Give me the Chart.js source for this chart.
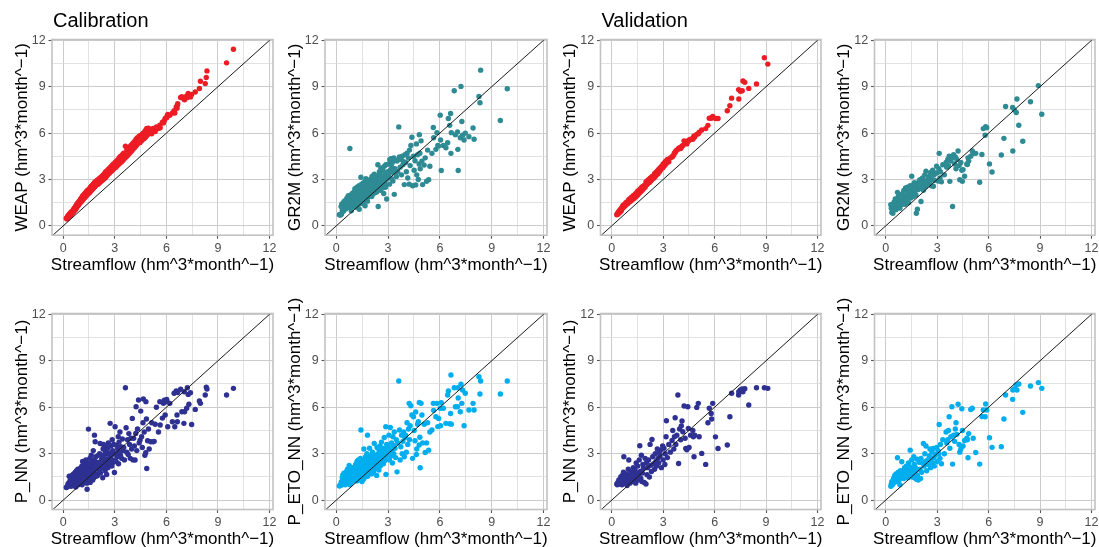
<!DOCTYPE html>
<html><head><meta charset="utf-8">
<script src="https://cdn.jsdelivr.net/npm/chart.js@4.4.0/dist/chart.umd.min.js"></script>
<style>
html,body{margin:0;padding:0;background:#fff;}
#wrap{position:relative;width:1099px;height:547px;overflow:hidden;background:#fff;}
#wrap canvas{position:absolute;left:0;top:0;}
</style></head><body><div id="wrap"></div>
<script>
// ---------- axis ticks ----------
const xLimits = [-0.65, 12.2];
const yLimits = [-0.6, 12.05];
const majorTicks = [0, 3, 6, 9, 12];
const minorTicks = [1.5, 4.5, 7.5, 10.5];

// ---------- calibration (observed streamflow and simulated) ----------
const obsCal = [0.18,0.22,0.25,0.28,0.3,0.32,0.35,0.38,0.4,0.42,0.44,0.45,0.47,0.5,
0.52,0.55,0.57,0.6,0.62,0.63,0.65,0.67,0.7,0.72,0.73,0.75,0.77,0.78,0.79,0.8,0.82,0.84,0.85,0.87,0.88,0.9,0.92,0.93,0.95,0.96,0.98,0.99,
1.01,1.03,1.05,1.07,1.08,1.1,1.12,1.13,1.15,1.17,1.18,1.2,1.22,1.23,1.25,1.27,1.28,1.3,1.32,1.33,1.35,1.37,1.38,1.39,1.4,1.42,1.43,1.45,1.47,1.49,
1.5,1.52,1.54,1.55,1.57,1.58,1.6,1.62,1.63,1.65,1.67,1.68,1.7,1.72,1.73,1.75,1.77,1.78,1.8,1.81,1.82,1.84,1.86,1.88,1.9,1.93,1.95,1.98,
2.0,2.02,2.05,2.07,2.1,2.12,2.15,2.17,2.2,2.22,2.25,2.27,2.3,2.32,2.34,2.36,2.38,2.41,2.43,2.44,2.46,2.47,2.48,2.5,
2.52,2.53,2.55,2.58,2.6,2.62,2.65,2.68,2.7,2.73,2.75,2.78,2.8,2.83,2.85,2.87,2.88,2.92,2.94,2.98,
3.02,3.05,3.08,3.1,3.13,3.17,3.2,3.22,3.25,3.28,3.3,3.33,3.36,3.4,3.44,3.48,
3.52,3.56,3.62,3.66,3.7,3.74,3.78,3.82,3.86,3.9,3.94,3.98,
4.02,4.06,4.1,4.14,4.18,4.22,4.24,4.28,4.32,4.38,4.42,4.47,
4.51,4.56,4.6,4.64,4.66,4.71,4.75,4.8,4.81,4.84,4.86,4.91,4.96,5.0,
5.09,5.15,5.23,5.29,5.35,5.42,5.54,5.62,5.64,5.77,5.83,5.88,5.93,
6.02,6.04,6.08,6.2,6.35,6.45,6.49,6.57,6.62,6.64,6.66,6.83,6.9,
7.02,7.04,7.06,7.18,7.22,7.27,7.31,7.4,7.47,7.68,7.92,7.98,
8.26,8.32,8.36,9.5,9.9];
const weapCal = [0.5,0.45,0.62,0.55,0.68,0.6,0.75,0.66,0.8,0.7,0.85,0.72,0.9,0.8,
0.95,0.85,1.0,0.92,1.1,0.96,1.15,1.02,1.22,1.08,1.28,1.12,1.3,1.2,1.38,1.22,1.42,1.28,1.48,1.32,1.5,1.38,1.58,1.42,1.6,1.48,1.66,1.52,
1.72,1.55,1.78,1.6,1.82,1.65,1.9,1.7,1.95,1.74,1.98,1.78,2.0,1.82,2.08,1.86,2.1,1.9,2.16,1.95,2.2,1.98,2.24,2.02,2.28,2.05,2.3,2.1,2.34,2.12,
2.35,2.15,2.4,2.2,2.45,2.24,2.5,2.28,2.55,2.32,2.58,2.36,2.62,2.4,2.68,2.45,2.7,2.48,2.76,2.52,2.8,2.55,2.84,2.6,2.88,2.64,2.92,2.7,
2.95,2.7,3.0,2.76,3.05,2.8,3.1,2.86,3.15,2.9,3.2,2.95,3.25,3.0,3.3,3.05,3.35,3.08,3.4,3.12,3.45,3.16,3.5,3.2,
3.5,3.25,3.55,3.3,3.62,3.35,3.68,3.4,3.72,3.48,3.8,3.52,3.85,3.58,3.9,3.62,3.95,3.68,4.0,3.75,
4.1,3.78,4.15,3.85,4.22,3.92,4.3,3.98,4.38,4.05,4.45,4.1,4.5,4.15,4.6,4.25,
4.7,4.35,5.15,4.45,4.9,4.55,5.0,4.65,5.1,4.75,5.2,4.85,
5.3,4.95,5.4,5.05,5.5,5.15,5.6,5.25,5.7,5.35,5.8,5.4,
5.85,5.5,5.95,5.6,6.0,5.65,6.1,5.75,6.2,5.85,6.3,5.9,6.31,6.0,
6.2,5.95,6.3,6.15,6.1,6.4,6.3,6.51,6.35,6.7,6.66,6.8,6.95,
7.0,7.1,7.2,7.15,7.3,7.45,7.3,7.69,7.6,7.8,7.9,8.3,8.35,
8.2,8.25,8.15,8.4,8.3,8.56,8.45,8.34,8.5,8.66,8.88,9.35,
9.2,9.59,10.02,10.54,11.42];
const gr2mCal = [0.72,0.74,0.7,1.25,0.75,1.4,1.0,1.45,1.3,0.95,1.54,1.2,1.6,1.35,
1.5,1.1,1.7,1.45,1.25,1.8,1.6,1.35,1.95,1.5,1.2,1.75,1.4,1.9,5.0,1.55,1.3,2.0,1.65,0.98,1.45,1.85,1.6,2.1,1.4,1.7,1.25,1.95,
1.55,2.2,1.8,1.3,2.4,1.65,2.0,1.45,2.3,1.9,1.2,2.5,1.7,2.1,1.55,2.35,1.85,1.4,2.6,1.08,2.0,1.75,2.45,1.9,2.2,1.6,3.15,2.05,2.7,1.5,
2.3,1.85,2.6,1.45,2.15,2.8,1.7,2.4,1.95,2.55,1.3,2.25,2.9,3.06,2.0,2.45,1.75,2.7,2.2,1.6,2.5,2.05,2.85,2.35,1.9,2.6,2.15,3.0,
2.3,2.75,1.9,3.2,2.5,2.05,2.9,2.35,3.35,2.65,2.15,3.0,2.4,2.8,2.2,3.1,2.55,3.95,1.26,2.7,3.3,2.35,2.9,3.5,
2.8,3.4,2.3,3.75,2.6,3.2,2.95,2.45,3.6,3.1,2.1,3.85,2.75,3.35,2.5,3.95,3.0,1.74,3.1,3.5,
4.0,3.3,2.7,4.3,3.6,4.34,3.05,3.8,4.1,2.9,3.45,4.4,2.04,3.7,4.25,3.2,
4.2,3.5,6.4,4.45,3.8,4.3,3.3,4.5,3.95,4.15,2.67,4.6,
4.1,3.5,4.7,3.1,4.4,2.7,4.9,3.9,5.2,5.73,2.6,4.5,
3.6,4.21,2.65,5.3,3.3,4.6,3.0,4.0,5.9,4.7,3.7,5.5,4.19,2.67,
3.93,4.4,2.89,4.9,2.99,3.86,4.69,6.36,5.7,4.95,6.03,5.2,5.16,
7.16,5.55,3.58,5.2,5.05,5.38,6.94,6.5,7.27,4.69,6.03,8.74,5.9,
6.07,4.95,3.58,5.7,9.02,6.75,5.86,5.55,6.0,5.77,6.33,5.6,
8.37,7.96,10.07,6.81,8.87];
const pnnCal = [0.82,0.85,0.9,1.05,0.95,1.1,1.55,1.2,1.0,1.35,1.45,0.9,1.25,1.6,
0.95,1.4,1.15,1.7,1.3,1.0,1.55,1.2,1.8,1.4,0.85,1.6,1.3,1.9,1.1,1.5,1.7,1.25,2.0,1.35,1.0,1.75,1.45,1.15,1.85,1.6,1.3,2.05,
1.2,1.65,1.9,1.35,2.2,1.0,1.55,2.5,1.8,1.3,1.65,2.0,1.45,1.15,2.3,1.7,1.95,1.25,2.6,1.5,1.85,1.1,2.15,0.71,1.6,2.4,1.4,1.75,4.59,2.0,
1.35,2.2,1.7,2.7,1.15,1.9,2.35,1.5,2.9,2.1,1.6,2.5,1.8,1.3,2.25,3.2,1.95,1.45,2.6,2.0,4.2,1.7,3.77,2.3,2.8,1.55,2.45,2.1,
1.6,2.4,2.9,1.9,2.2,3.0,3.66,1.75,2.05,2.6,2.35,2.8,1.45,3.3,3.6,2.5,2.15,2.95,2.4,1.9,3.1,2.65,3.45,2.25,
3.0,1.66,2.6,3.35,2.1,3.7,2.45,3.05,2.75,4.96,2.3,3.5,2.9,2.2,3.9,2.6,3.2,2.45,3.6,1.79,
4.74,3.0,2.5,3.55,2.8,3.3,4.1,2.35,3.75,3.1,4.4,2.9,3.45,2.7,3.95,3.2,
3.4,2.6,7.26,4.68,3.1,3.9,2.95,4.3,3.6,2.7,4.0,3.3,
5.28,2.6,4.0,3.5,2.59,4.31,6.03,3.2,4.6,6.47,3.7,3.88,
5.75,4.1,3.4,5.0,6.53,4.4,2.9,3.06,6.36,5.24,2.05,3.84,4.6,3.3,
3.77,5.0,3.77,3.8,4.9,6.0,4.4,6.36,4.85,5.3,6.25,6.45,5.5,
6.5,6.36,4.74,6.25,5.06,6.9,4.74,7.05,5.5,5.06,6.95,7.16,5.71,
4.96,7.0,5.71,5.93,7.26,6.83,6.19,6.94,4.89,5.86,6.4,6.25,
6.79,7.3,7.18,6.79,7.22];
const petoCal = [0.92,0.95,1.0,1.05,1.2,0.98,1.45,1.62,1.1,1.3,1.75,1.15,1.5,1.4,
1.0,1.6,1.25,1.85,1.1,1.45,2.0,1.3,1.7,1.2,1.55,2.25,1.4,1.65,1.0,1.8,1.35,1.9,1.6,1.15,2.1,1.5,1.75,1.3,2.0,1.45,1.85,1.6,
1.35,1.95,1.55,2.15,1.7,1.25,2.3,1.85,1.45,2.05,1.6,2.5,1.25,1.9,2.2,1.5,2.6,1.75,2.0,1.35,2.35,1.8,1.55,2.1,2.7,1.95,4.53,1.7,2.4,1.2,
2.05,1.6,2.45,1.9,1.35,2.2,3.3,1.75,2.6,2.0,1.5,2.3,2.8,1.65,2.15,2.5,1.9,3.0,2.35,4.2,1.55,2.7,2.05,1.8,2.45,3.35,2.2,2.55,
2.0,2.85,1.7,2.4,3.1,2.2,2.6,1.85,3.66,2.45,2.05,2.9,2.3,2.65,1.6,3.4,2.5,2.8,2.15,3.0,2.35,1.95,3.25,2.6,
2.75,3.5,2.2,3.1,2.45,3.75,2.6,3.35,2.9,2.35,3.0,4.05,2.55,3.3,2.8,4.74,1.66,3.6,2.95,3.2,
3.4,4.2,2.6,3.05,4.7,2.85,3.7,3.25,2.4,4.1,3.55,3.0,4.4,3.35,2.75,3.9,
1.83,3.7,7.69,4.53,2.6,3.45,4.2,3.0,3.8,4.4,2.8,4.05,
4.2,3.1,5.0,3.6,4.6,6.25,3.9,4.81,6.1,5.5,2.7,5.39,
4.5,3.84,5.7,2.95,3.3,4.9,5.06,3.56,6.31,4.06,2.09,6.25,5.5,3.7,
4.9,3.08,3.7,5.0,3.23,4.4,4.53,6.25,5.8,5.39,6.25,4.75,5.28,
5.93,4.81,6.3,5.93,4.96,6.79,7.05,4.94,5.6,8.08,4.91,7.26,6.03,
6.03,7.26,6.6,5.71,7.48,6.25,7.11,4.81,6.9,5.82,6.25,5.82,
7.97,6.85,7.69,6.85,7.69];

// ---------- validation ----------
const obsVal = [0.3,0.33,0.36,0.4,0.42,0.46,0.5,0.53,0.56,0.6,0.62,0.65,0.69,0.71,0.74,0.78,0.8,0.83,0.86,0.9,0.94,0.97,
1.0,1.03,1.06,1.1,1.13,1.16,1.2,1.23,1.26,1.3,1.33,1.36,1.4,1.43,1.46,1.49,
1.52,1.55,1.58,1.61,1.64,1.67,1.7,1.73,1.76,1.79,1.82,1.85,1.9,1.95,
2.0,2.03,2.06,2.1,2.15,2.2,2.24,2.28,2.32,2.35,2.39,2.45,
2.5,2.54,2.58,2.62,2.66,2.7,2.74,2.78,2.82,2.84,2.9,2.97,
3.0,3.05,3.1,3.12,3.17,3.19,3.25,3.33,3.42,
3.52,3.56,3.62,3.66,3.7,3.74,3.8,3.86,3.9,3.96,
4.02,4.06,4.1,4.15,4.22,4.28,4.32,4.38,4.44,4.47,
4.51,4.6,4.73,4.76,4.8,4.84,4.96,
5.05,5.1,5.25,5.48,5.61,5.69,5.8,5.83,5.89,
6.05,6.2,6.74,6.89,6.99,
7.4,7.41,7.5,7.61,7.65,7.76,7.99,
8.44,8.9,9.1];
const weapVal = [0.72,0.8,0.76,0.92,0.84,1.0,0.9,1.1,0.98,1.2,1.12,1.3,1.2,1.36,1.25,1.42,1.32,1.5,1.38,1.55,1.45,1.62,
1.7,1.55,1.75,1.6,1.82,1.66,1.88,1.72,1.95,1.78,2.0,1.85,2.08,1.9,2.15,1.98,
2.25,2.05,2.3,2.12,2.35,2.2,2.42,2.25,2.5,2.32,2.55,2.4,2.62,2.5,
2.85,2.65,2.9,2.72,2.98,2.8,3.08,2.9,3.15,3.0,3.22,3.08,
3.38,3.2,3.45,3.3,3.55,3.38,3.65,3.5,3.75,3.6,3.85,3.75,
4.0,3.85,4.12,3.95,4.2,4.05,4.3,4.15,4.4,
4.45,4.5,4.6,4.72,4.75,4.85,4.9,4.95,5.0,5.05,
5.0,5.1,5.15,5.2,5.5,5.35,5.45,5.3,5.45,5.5,
5.55,5.6,5.6,5.7,5.81,5.75,5.92,
5.95,6.05,6.2,6.29,6.5,6.96,6.96,7.0,7.07,
6.94,6.94,7.44,7.77,8.26,
8.81,8.2,8.7,8.74,9.37,9.28,8.89,
9.18,10.87,10.46];
const gr2mVal = [1.37,1.15,0.87,1.4,0.82,1.2,1.55,1.3,1.75,1.05,1.6,1.25,2.17,1.45,1.9,1.35,1.7,1.15,2.0,1.5,1.8,1.4,
2.1,1.6,2.3,1.85,1.4,2.45,1.95,1.7,2.5,2.2,1.5,2.35,2.0,2.6,1.8,2.25,
3.21,2.1,2.6,1.9,2.4,2.8,2.2,2.55,2.0,0.82,2.7,1.08,2.35,2.9,
2.99,2.45,1.58,2.7,3.1,2.3,2.85,3.3,2.55,3.54,2.67,3.0,
2.75,3.2,2.88,3.45,2.6,3.0,3.6,2.56,3.3,2.95,3.4,3.86,
3.43,2.9,3.7,4.69,3.1,3.5,2.85,3.95,3.3,
4.1,3.8,4.3,3.9,4.51,2.88,4.2,4.4,1.26,4.6,
4.0,4.45,3.7,4.3,4.84,3.9,2.99,4.1,3.6,2.88,
3.64,3.21,4.0,3.97,4.4,4.19,4.5,
4.84,4.7,4.69,2.82,4.62,6.29,5.86,6.42,6.35,
4.01,3.49,4.58,5.66,7.72,
7.66,4.84,7.5,7.33,8.2,6.51,5.47,
8.03,9.07,7.22];
const pnnVal = [1.05,1.0,1.15,1.1,1.3,1.05,1.2,1.5,1.35,1.0,1.6,1.25,1.8,2.8,1.45,1.1,1.55,1.3,1.7,0.95,1.2,2.0,
2.59,1.4,1.1,1.65,1.35,1.8,1.2,1.55,2.1,1.7,1.3,1.95,1.1,2.4,1.5,1.75,
2.2,1.3,1.6,2.6,3.51,1.85,1.4,2.9,1.2,1.75,2.3,2.05,1.15,2.7,
1.05,2.4,1.65,2.1,2.6,1.5,3.6,2.25,1.85,3.92,2.8,2.35,
2.0,3.0,2.5,2.2,3.3,2.7,2.4,3.1,2.85,3.23,2.1,3.5,
2.6,3.35,2.3,3.0,4.1,5.13,2.75,3.6,3.1,
3.85,4.5,3.3,4.1,5.32,3.6,4.2,6.79,2.37,4.6,
3.9,4.8,5.11,4.42,6.08,4.0,3.34,3.25,6.03,4.63,
3.4,4.2,4.5,4.09,2.8,4.2,5.99,
6.25,4.1,3.02,2.31,5.0,5.93,5.6,5.24,6.25,
4.09,3.34,3.56,5.39,6.9,
6.79,7.0,7.11,7.18,7.0,7.2,6.14,
7.26,7.26,7.22];
const petoVal = [0.9,1.05,1.2,1.0,1.25,1.4,1.15,1.6,1.35,1.7,1.5,1.2,2.74,1.55,1.8,1.3,1.65,1.0,1.9,1.45,2.48,1.75,
1.6,1.9,1.4,2.1,1.7,1.5,2.2,1.85,2.0,1.45,2.4,1.75,2.15,3.23,1.65,1.9,
2.6,1.5,2.05,1.7,2.8,2.3,1.45,2.1,1.85,1.35,2.65,1.6,1.3,2.45,
2.0,1.4,2.7,1.8,2.4,3.66,2.2,3.0,2.5,3.5,1.9,2.6,
2.3,2.85,3.3,2.1,2.6,3.1,2.4,3.34,2.75,2.2,2.95,3.4,
2.5,3.2,3.0,4.89,2.7,3.6,2.35,3.9,3.0,
4.4,3.7,3.9,4.5,5.39,3.35,4.1,6.03,2.33,4.2,
3.8,4.6,5.0,4.25,6.19,3.6,3.1,3.3,5.9,4.5,
3.5,3.85,4.0,3.9,2.74,4.3,5.85,
5.93,4.0,3.08,2.33,5.4,5.82,5.39,6.21,5.82,
4.03,3.41,3.45,5.24,6.79,
6.51,7.11,7.2,7.44,7.11,7.5,5.67,
7.37,7.59,7.22];

// ---------- labels / colours ----------
const modelNames = ['WEAP', 'GR2M', 'P_NN', 'P_ETO_NN'];
const periodTitles = ['Calibration', 'Validation'];
const unitText = '(hm^3*month^\u22121)';
const xTitleText = 'Streamflow ' + unitText;
const colours = {WEAP: '#ED1C24', GR2M: '#2E8B94', P_NN: '#2E3192', P_ETO_NN: '#00AEEF'};

// ---------- layout (page pixels) ----------
const PAGE_W = 1099, PAGE_H = 547;
const colLeft = [52, 325, 600.5, 874.5];
const colRight = [273, 547, 821, 1095.5];
const rowTop = [39.5, 313.5];
const rowBottom = [235.2, 509.5];
const Y_W = 30, X_H = 30;
const FONT = '"Liberation Sans", Arial, Helvetica, sans-serif';

const panels = [
  {row:0, col:0, model:modelNames[0], obs:obsCal, sim:weapCal, title:periodTitles[0]},
  {row:0, col:1, model:modelNames[1], obs:obsCal, sim:gr2mCal},
  {row:0, col:2, model:modelNames[0], obs:obsVal, sim:weapVal, title:periodTitles[1]},
  {row:0, col:3, model:modelNames[1], obs:obsVal, sim:gr2mVal},
  {row:1, col:0, model:modelNames[2], obs:obsCal, sim:pnnCal},
  {row:1, col:1, model:modelNames[3], obs:obsCal, sim:petoCal},
  {row:1, col:2, model:modelNames[2], obs:obsVal, sim:pnnVal},
  {row:1, col:3, model:modelNames[3], obs:obsVal, sim:petoVal}
];

const allTicks = majorTicks.concat(minorTicks).sort((a, b) => a - b);
const isMajor = v => majorTicks.some(m => Math.abs(m - v) < 1e-9);
const tickMajor = ctx => !!(ctx && ctx.tick && isMajor(ctx.tick.value));

const framePlugin = {
  id: 'frame',
  afterDatasetsDraw(chart) {
    const a = chart.chartArea, c = chart.ctx;
    c.save();
    c.strokeStyle = '#c2c2c2';
    c.lineWidth = 1.6;
    c.strokeRect(a.left, a.top, a.right - a.left, a.bottom - a.top);
    c.restore();
  }
};
const textPlugin = {
  id: 'texts',
  afterDraw(chart, args, opts) {
    const a = chart.chartArea, c = chart.ctx;
    c.save();
    c.fillStyle = '#000';
    c.font = '17px ' + FONT;
    c.textAlign = 'center';
    c.textBaseline = 'alphabetic';
    c.fillText(opts.xTitle, (a.left + a.right) / 2, a.bottom + 34.5);
    c.save();
    c.translate(a.left - 25.5, (a.top + a.bottom) / 2);
    c.rotate(-Math.PI / 2);
    c.fillText(opts.yTitle, 0, 0);
    c.restore();
    if (opts.title) {
      c.font = '20px ' + FONT;
      c.textAlign = 'left';
      c.fillText(opts.title, a.left + 1, a.top - 12.5);
    }
    c.restore();
  }
};

function scaleOpts(axis, limits) {
  return {
    type: 'linear',
    min: limits[0],
    max: limits[1],
    afterBuildTicks: s => { s.ticks = allTicks.map(v => ({value: v})); },
    afterFit: s => {
      if (axis === 'x') { s.height = X_H; s.paddingLeft = 0; s.paddingRight = 0; }
      else { s.width = Y_W; s.paddingTop = 0; s.paddingBottom = 0; }
    },
    grid: {
      color: ctx => tickMajor(ctx) ? '#cccccc' : '#dadada',
      lineWidth: ctx => tickMajor(ctx) ? 1 : 0.8,
      tickColor: ctx => tickMajor(ctx) ? '#555555' : 'rgba(0,0,0,0)',
      tickLength: 3.5,
      tickWidth: 1.1,
      drawTicks: true
    },
    border: {display: false},
    ticks: {
      autoSkip: false,
      maxRotation: 0,
      minRotation: 0,
      padding: axis === 'x' ? 2.5 : 2.8,
      color: '#4d4d4d',
      font: {family: FONT, size: 12.5},
      callback: v => isMajor(v) ? String(v) : ''
    }
  };
}

const wrap = document.getElementById('wrap');
panels.forEach(p => {
  const cv = document.createElement('canvas');
  cv.width = PAGE_W; cv.height = PAGE_H;
  cv.style.width = PAGE_W + 'px'; cv.style.height = PAGE_H + 'px';
  wrap.appendChild(cv);
  const l = colLeft[p.col], r = colRight[p.col], t = rowTop[p.row], b = rowBottom[p.row];
  new Chart(cv.getContext('2d'), {
    type: 'scatter',
    data: {
      datasets: [
        {
          label: '1:1',
          data: xLimits.map(v => ({x: v, y: v})),
          showLine: true,
          borderColor: '#1a1a1a',
          borderWidth: 1,
          pointRadius: 0,
          order: 0
        },
        {
          label: p.model,
          data: p.obs.map((o, i) => ({x: o, y: p.sim[i]})),
          pointRadius: 2.7,
          pointBackgroundColor: colours[p.model],
          backgroundColor: colours[p.model],
          pointBorderWidth: 0,
          borderWidth: 0,
          order: 1
        }
      ]
    },
    options: {
      responsive: false,
      animation: false,
      devicePixelRatio: 1,
      events: [],
      layout: {padding: {left: l - Y_W, right: PAGE_W - r, top: t, bottom: PAGE_H - b - X_H}},
      scales: {x: scaleOpts('x', xLimits), y: scaleOpts('y', yLimits)},
      plugins: {
        legend: {display: false},
        tooltip: {enabled: false},
        texts: {xTitle: xTitleText, yTitle: p.model + ' ' + unitText, title: p.title || ''}
      }
    },
    plugins: [framePlugin, textPlugin]
  });
});
</script>
</body></html>
